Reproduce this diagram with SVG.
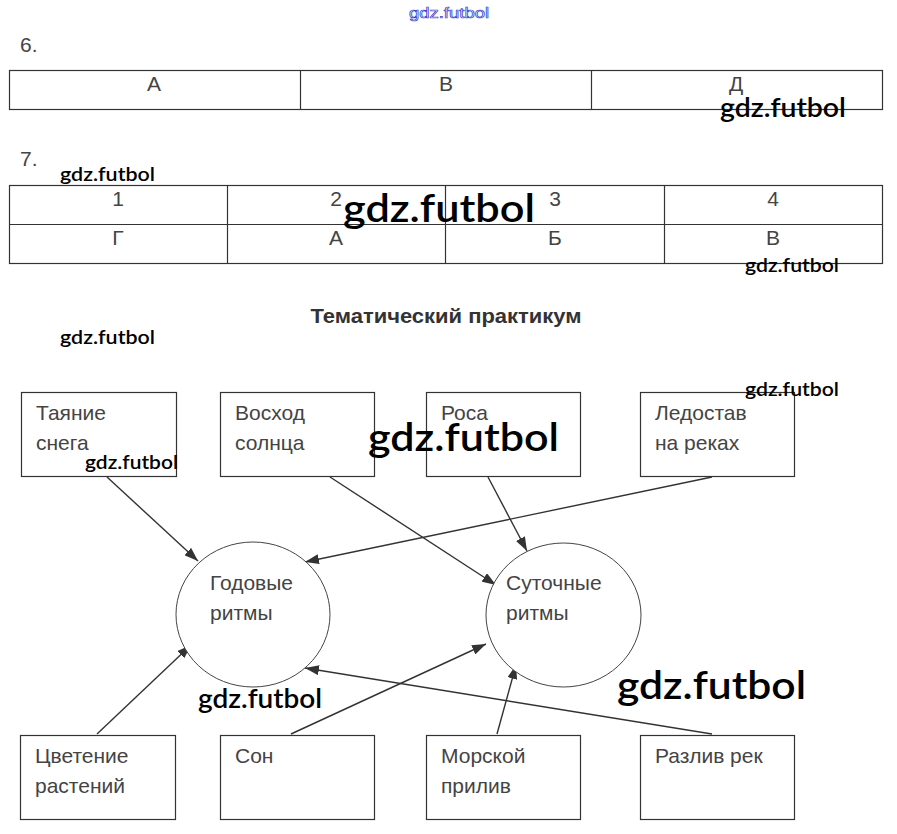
<svg xmlns="http://www.w3.org/2000/svg" width="897" height="834" viewBox="0 0 897 834">
<style>
.t{font-family:"Liberation Sans",Arial,sans-serif;font-size:21px;fill:#444}
.c{text-anchor:middle}
.ln{stroke:#333;stroke-width:1.2;fill:none}
.box{fill:#fff;stroke:#333;stroke-width:1.2}
.circ{fill:#fff;stroke:#444;stroke-width:1}
.wm{font-family:Lato,"Noto Sans",sans-serif;fill:#000;font-weight:600}
.con{stroke:#333;stroke-width:1.4;fill:none;marker-end:url(#ah)}
</style>
<defs>
<marker id="ah" viewBox="0 0 14 10" refX="14" refY="5" markerWidth="14" markerHeight="10" markerUnits="userSpaceOnUse" orient="auto">
<path d="M0,0 L14,5 L0,10 Z" fill="#333"/>
</marker>
</defs>
<rect width="897" height="834" fill="#fff"/>

<text x="20" y="52" class="t">6.</text>
<g id="table6">
<rect x="9.5" y="70.5" width="873" height="39" class="ln"/>
<line x1="300.5" y1="70" x2="300.5" y2="110" class="ln"/>
<line x1="591.5" y1="70" x2="591.5" y2="110" class="ln"/>
<text x="154" y="91" class="t c">А</text>
<text x="446" y="91" class="t c">В</text>
<text x="736" y="91" class="t c">Д</text>
</g>

<text x="20" y="166" class="t">7.</text>
<g id="table7">
<rect x="9.5" y="185.5" width="873" height="78" class="ln"/>
<line x1="9" y1="224.5" x2="883" y2="224.5" class="ln"/>
<line x1="227.5" y1="185" x2="227.5" y2="264" class="ln"/>
<line x1="445.5" y1="185" x2="445.5" y2="264" class="ln"/>
<line x1="664.5" y1="185" x2="664.5" y2="264" class="ln"/>
<text x="118" y="206" class="t c">1</text>
<text x="336" y="206" class="t c">2</text>
<text x="555" y="206" class="t c">3</text>
<text x="773" y="206" class="t c">4</text>
<text x="118" y="245" class="t c">Г</text>
<text x="336" y="245" class="t c">А</text>
<text x="555" y="245" class="t c">Б</text>
<text x="773" y="245" class="t c">В</text>
</g>

<text x="446" y="323" class="c" font-family="Liberation Sans,Arial,sans-serif" font-size="20" font-weight="bold" fill="#333" textLength="271" lengthAdjust="spacingAndGlyphs">Тематический практикум</text>

<g id="connectors">
<line x1="107" y1="477" x2="198" y2="561" class="con"/>
<line x1="330" y1="477" x2="496" y2="585" class="con"/>
<line x1="488" y1="477" x2="527" y2="551" class="con"/>
<line x1="712" y1="477" x2="305" y2="562" class="con"/>
<line x1="97" y1="734" x2="191" y2="645" class="con"/>
<line x1="291" y1="734" x2="486" y2="644" class="con"/>
<line x1="497" y1="734" x2="516" y2="665" class="con"/>
<line x1="712" y1="734" x2="305" y2="668" class="con"/>
</g>

<g id="n-tayanie"><rect x="21.5" y="392.5" width="155" height="84" class="box"/><text x="36" y="420" class="t">Таяние</text><text x="36" y="450" class="t">снега</text></g>
<g id="n-voshod"><rect x="220.5" y="392.5" width="154" height="84" class="box"/><text x="235" y="420" class="t">Восход</text><text x="235" y="450" class="t">солнца</text></g>
<g id="n-rosa"><rect x="426.5" y="392.5" width="154" height="84" class="box"/><text x="441" y="420" class="t">Роса</text></g>
<g id="n-ledostav"><rect x="640.5" y="392.5" width="154" height="84" class="box"/><text x="655" y="420" class="t">Ледостав</text><text x="655" y="450" class="t">на реках</text></g>

<g id="n-godovye"><ellipse cx="253" cy="614.5" rx="77" ry="72.5" class="circ"/><text x="210" y="590" class="t">Годовые</text><text x="210" y="620" class="t">ритмы</text></g>
<g id="n-sutochnye"><ellipse cx="563.5" cy="615" rx="77.5" ry="72" class="circ"/><text x="506" y="590" class="t">Суточные</text><text x="506" y="620" class="t">ритмы</text></g>

<g id="n-cvetenie"><rect x="20.5" y="735.5" width="155" height="84" class="box"/><text x="35" y="763" class="t">Цветение</text><text x="35" y="793" class="t">растений</text></g>
<g id="n-son"><rect x="220.5" y="735.5" width="154" height="84" class="box"/><text x="235" y="763" class="t">Сон</text></g>
<g id="n-morskoy"><rect x="426.5" y="735.5" width="154" height="84" class="box"/><text x="441" y="763" class="t">Морской</text><text x="441" y="793" class="t">прилив</text></g>
<g id="n-razliv"><rect x="640.5" y="735.5" width="154" height="84" class="box"/><text x="655" y="763" class="t">Разлив рек</text></g>

<g id="watermarks">
<text x="409" y="18" font-family="Liberation Sans,Arial,sans-serif" font-size="15" fill="#fff" stroke="#4040c8" stroke-width="0.7" textLength="80" lengthAdjust="spacingAndGlyphs">gdz.futbol</text>
<text x="720" y="117" class="wm" font-size="26" textLength="126" lengthAdjust="spacingAndGlyphs">gdz.futbol</text>
<text x="60" y="181" class="wm" font-size="20" textLength="95" lengthAdjust="spacingAndGlyphs">gdz.futbol</text>
<text x="343" y="222" class="wm" font-size="39" textLength="192" lengthAdjust="spacingAndGlyphs">gdz.futbol</text>
<text x="745" y="272" class="wm" font-size="20" textLength="94" lengthAdjust="spacingAndGlyphs">gdz.futbol</text>
<text x="60" y="344" class="wm" font-size="20" textLength="95" lengthAdjust="spacingAndGlyphs">gdz.futbol</text>
<text x="745" y="396" class="wm" font-size="20" textLength="94" lengthAdjust="spacingAndGlyphs">gdz.futbol</text>
<text x="85" y="469" class="wm" font-size="20" textLength="93" lengthAdjust="spacingAndGlyphs">gdz.futbol</text>
<text x="368" y="451" class="wm" font-size="39" textLength="191" lengthAdjust="spacingAndGlyphs">gdz.futbol</text>
<text x="198" y="708" class="wm" font-size="26" textLength="124" lengthAdjust="spacingAndGlyphs">gdz.futbol</text>
<text x="617" y="699" class="wm" font-size="39" textLength="189" lengthAdjust="spacingAndGlyphs">gdz.futbol</text>
</g>
</svg>
